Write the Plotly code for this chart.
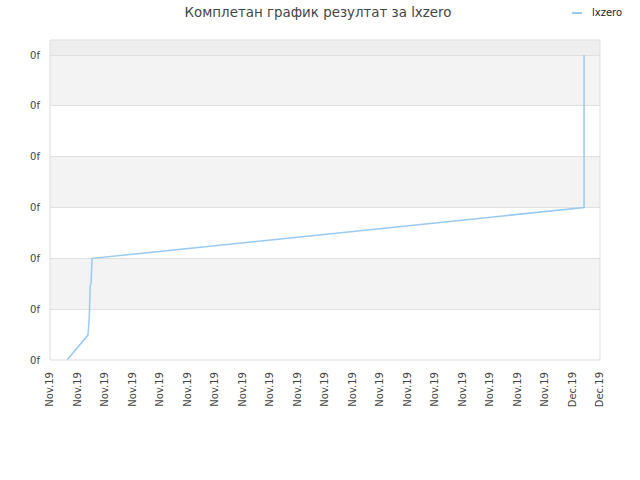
import plotly.graph_objects as go

title = "Комплетан график резултат за lxzero"
series_name = "lxzero"
x_tick_labels = ["Nov.19"] * 19 + ["Dec.19"] * 2
y_tick_labels = ["0f"] * 7

# data (x in tick-index units, y in grid units)
x_vals = [0.62, 1.38, 1.43, 1.46, 1.49, 1.53, 3.0, 6.0, 9.0, 12.0, 15.0, 18.0, 19.42, 19.42, 19.42]
y_vals = [0.0, 0.49, 0.85, 1.45, 1.5, 2.0, 2.08, 2.25, 2.42, 2.585, 2.75, 2.92, 3.0, 4.5, 6.0]

W, H = 640, 480
L, R, T, B = 50, 40, 40, 120
pw, ph = W - L - R, H - T - B

fig = go.Figure()
fig.add_trace(go.Scatter(x=x_vals, y=y_vals, mode="lines", name=series_name,
                         line=dict(color="#99c9f5", width=1.5), showlegend=False))

ytop = 6.295
shapes = []
for lo, hi, col in [(6, ytop, "#eeeeee"), (5, 6, "#f3f3f3"), (3, 4, "#f3f3f3"), (1, 2, "#f3f3f3")]:
    shapes.append(dict(type="rect", xref="x", yref="y", x0=0, x1=20, y0=lo, y1=hi,
                       fillcolor=col, line=dict(width=0), layer="below"))
shapes.append(dict(type="rect", xref="paper", yref="paper", x0=0, x1=1, y0=0, y1=1,
                   line=dict(color="#dddddd", width=1), fillcolor="rgba(0,0,0,0)"))
# legend swatch (short line) at top right
ly = (H - B - 13) / ph
shapes.append(dict(type="line", xref="paper", yref="paper",
                   x0=(572 - L) / pw, x1=(582 - L) / pw, y0=ly, y1=ly,
                   line=dict(color="#99c9f5", width=2)))

annotations = [dict(text=series_name, xref="paper", yref="paper", x=(590 - L) / pw, y=ly,
                    xanchor="left", yanchor="middle", showarrow=False,
                    font=dict(size=10, color="#222"))]

fig.update_layout(
    width=W, height=H,
    margin=dict(l=L, r=R, t=T, b=B, autoexpand=False),
    paper_bgcolor="white", plot_bgcolor="white",
    font=dict(family="DejaVu Sans", size=10, color="#444"),
    title=dict(text=title, x=318 / W, xanchor="center", y=1 - 12 / H, yanchor="middle",
               font=dict(size=13.4, color="#444")),
    showlegend=False,
    shapes=shapes,
    annotations=annotations,
    xaxis=dict(range=[0, 20], tickmode="array", tickvals=list(range(21)), ticktext=x_tick_labels,
               tickangle=-90, showgrid=False, zeroline=False, showline=False, automargin=False,
               tickfont=dict(size=10, color="#444"), ticks="", ticklabelstandoff=9),
    yaxis=dict(range=[0, ytop], tickmode="array", tickvals=list(range(7)), ticktext=y_tick_labels,
               showgrid=True, gridcolor="#e0e0e0", gridwidth=1, zeroline=False, showline=False,
               automargin=False, tickfont=dict(size=10, color="#444"), ticks="",
               ticklabelstandoff=9),
)
fig.write_html("out.html", config={"displayModeBar": False},
               post_script="document.body.style.margin='0';")
